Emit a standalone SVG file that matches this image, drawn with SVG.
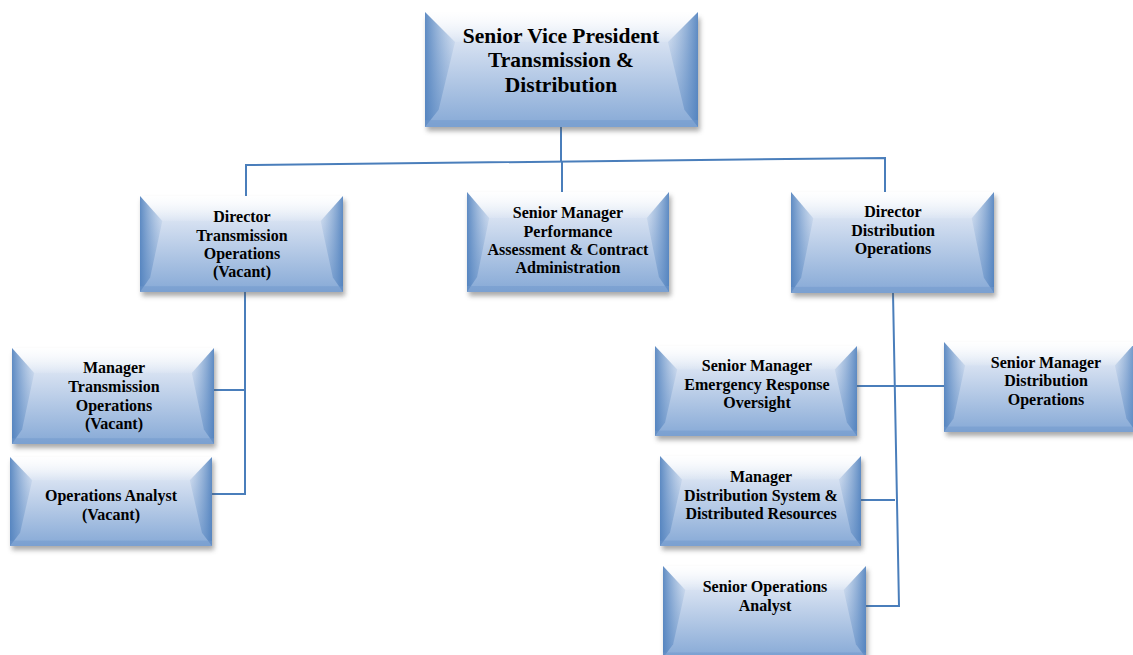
<svg xmlns="http://www.w3.org/2000/svg" width="1133" height="655" viewBox="0 0 1133 655">
<style>
.t{font-family:"Liberation Serif","Times New Roman",serif;font-weight:bold;font-size:16px;fill:#000;text-anchor:middle}
.big{font-size:21.5px}
.c{fill:none;stroke:#4a7ebb;stroke-width:2}
.sh{fill:#555;opacity:0.5;filter:url(#blur)}
.base{fill:url(#gv)}
.lb{fill:url(#gl)}
.rb{fill:url(#gr)}
.tb{fill:url(#gt)}
</style>
<defs>
<filter id="blur" x="-10%" y="-10%" width="120%" height="130%"><feGaussianBlur stdDeviation="2.5"/></filter>
<linearGradient id="gv" x1="0" y1="0" x2="0" y2="1">
<stop offset="0" stop-color="#f2f6fb"/>
<stop offset="0.3" stop-color="#d2def0"/>
<stop offset="1" stop-color="#86a9d6"/>
</linearGradient>
<linearGradient id="gl" x1="0" y1="0" x2="1" y2="0">
<stop offset="0" stop-color="#4f80bd" stop-opacity="0.9"/>
<stop offset="1" stop-color="#7aa0cf" stop-opacity="0.15"/>
</linearGradient>
<linearGradient id="gr" x1="1" y1="0" x2="0" y2="0">
<stop offset="0" stop-color="#4f80bd" stop-opacity="0.9"/>
<stop offset="1" stop-color="#7aa0cf" stop-opacity="0.15"/>
</linearGradient>
<linearGradient id="gt" x1="0" y1="0" x2="0" y2="1">
<stop offset="0" stop-color="#ffffff" stop-opacity="0.95"/>
<stop offset="1" stop-color="#ffffff" stop-opacity="0.1"/>
</linearGradient>
<symbol id="box" viewBox="0 0 200 100" preserveAspectRatio="none">
<rect class="base" x="0" y="0" width="200" height="100"/>
<polygon class="tb" points="0,0 200,0 178,26 22,26"/>
<polygon class="lb" points="0,0 22,26 10,85 0,100"/>
<polygon class="rb" points="200,0 178,26 190,85 200,100"/>
<rect x="0" y="94" width="200" height="6" fill="#6f97cc" opacity="0.5"/>
</symbol>
</defs>
<rect width="1133" height="655" fill="#fff"/>

<g id="connectors">
<polyline class="c" points="561,127 561,161"/>
<polyline class="c" points="246,196 246,165 885,158 885,192"/>
<polyline class="c" points="562,161 562,192"/>
<polyline class="c" points="245,292 245,495"/>
<polyline class="c" points="214,390 245,390"/>
<polyline class="c" points="212,494 245,494"/>
<polyline class="c" points="893,293 899,606 866,606"/>
<polyline class="c" points="857,386 944,386"/>
<polyline class="c" points="861,500 895,500"/>
</g>

<g id="svp">
<rect class="sh" x="427" y="18" width="273" height="113"/>
<use href="#box" x="425" y="12" width="273" height="115"/>
<text class="t big" x="561" y="43">Senior Vice President</text>
<text class="t big" x="561" y="67">Transmission &amp;</text>
<text class="t big" x="561" y="92">Distribution</text>
</g>

<g id="dir-trans">
<rect class="sh" x="142" y="200" width="203" height="96"/>
<use href="#box" x="140" y="196" width="203" height="96"/>
<text class="t" x="242" y="222">Director</text>
<text class="t" x="242" y="241">Transmission</text>
<text class="t" x="242" y="259">Operations</text>
<text class="t" x="242" y="277">(Vacant)</text>
</g>

<g id="sm-perf">
<rect class="sh" x="469" y="196" width="202" height="100"/>
<use href="#box" x="467" y="192" width="202" height="100"/>
<text class="t" x="568" y="218">Senior Manager</text>
<text class="t" x="568" y="237">Performance</text>
<text class="t" x="568" y="255">Assessment &amp; Contract</text>
<text class="t" x="568" y="273">Administration</text>
</g>

<g id="dir-dist">
<rect class="sh" x="793" y="196" width="203" height="101"/>
<use href="#box" x="791" y="192" width="203" height="101"/>
<text class="t" x="893" y="217">Director</text>
<text class="t" x="893" y="236">Distribution</text>
<text class="t" x="893" y="254">Operations</text>
</g>

<g id="mgr-trans">
<rect class="sh" x="14" y="352" width="202" height="96"/>
<use href="#box" x="12" y="348" width="202" height="96"/>
<text class="t" x="114" y="373">Manager</text>
<text class="t" x="114" y="392">Transmission</text>
<text class="t" x="114" y="411">Operations</text>
<text class="t" x="114" y="429">(Vacant)</text>
</g>

<g id="ops-analyst">
<rect class="sh" x="12" y="461" width="202" height="89"/>
<use href="#box" x="10" y="457" width="202" height="89"/>
<text class="t" x="111" y="501">Operations Analyst</text>
<text class="t" x="111" y="520">(Vacant)</text>
</g>

<g id="sm-emergency">
<rect class="sh" x="657" y="350" width="202" height="90"/>
<use href="#box" x="655" y="346" width="202" height="90"/>
<text class="t" x="757" y="371">Senior Manager</text>
<text class="t" x="757" y="390">Emergency Response</text>
<text class="t" x="757" y="408">Oversight</text>
</g>

<g id="sm-dist-ops">
<rect class="sh" x="946" y="346" width="190" height="90"/>
<use href="#box" x="944" y="342" width="192" height="90"/>
<text class="t" x="1046" y="368">Senior Manager</text>
<text class="t" x="1046" y="386">Distribution</text>
<text class="t" x="1046" y="405">Operations</text>
</g>

<g id="mgr-dist-sys">
<rect class="sh" x="662" y="460" width="201" height="90"/>
<use href="#box" x="660" y="456" width="201" height="90"/>
<text class="t" x="761" y="482">Manager</text>
<text class="t" x="761" y="501">Distribution System &amp;</text>
<text class="t" x="761" y="519">Distributed Resources</text>
</g>

<g id="sr-ops-analyst">
<rect class="sh" x="665" y="570" width="203" height="90"/>
<use href="#box" x="663" y="566" width="203" height="92"/>
<text class="t" x="765" y="592">Senior Operations</text>
<text class="t" x="765" y="611">Analyst</text>
</g>
</svg>
